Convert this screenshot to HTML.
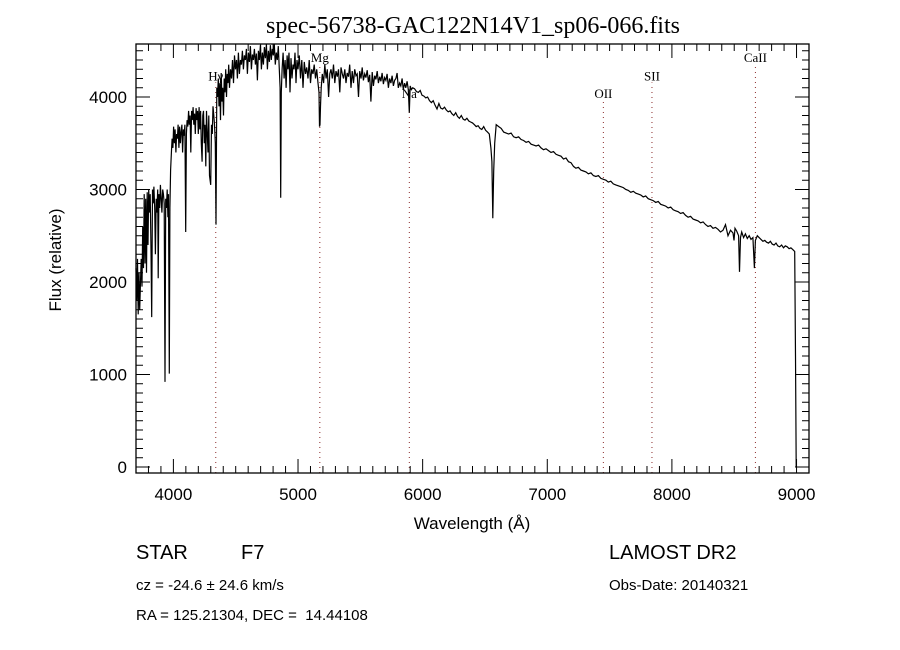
<!DOCTYPE html>
<html><head><meta charset="utf-8"><style>
html,body{margin:0;padding:0;background:#fff;}
svg{display:block;}
.t{font-family:"Liberation Sans",sans-serif;fill:#000;}
.s{font-family:"Liberation Serif",serif;fill:#000;}
</style></head><body>
<svg id="chart" width="900" height="650" viewBox="0 0 900 650" xmlns="http://www.w3.org/2000/svg">
<rect width="900" height="650" fill="#fff"/>
<text class="s" x="473" y="33" font-size="24" text-anchor="middle">spec-56738-GAC122N14V1_sp06-066.fits</text>
<g id="grid"></g>
<g id="marks"></g>
<rect x="136" y="44" width="673" height="429" fill="none" stroke="#000" stroke-width="1.3"/>
<g id="axes"></g>
<text class="t" x="472" y="529" font-size="17" text-anchor="middle">Wavelength (Å)</text>
<text class="t" transform="translate(61,260) rotate(-90)" font-size="17" text-anchor="middle">Flux (relative)</text>
<text class="t" x="136" y="559" font-size="20">STAR</text>
<text class="t" x="241" y="559" font-size="20">F7</text>
<text class="t" x="136" y="590" font-size="15">cz = -24.6 ± 24.6 km/s</text>
<text class="t" x="136" y="620" font-size="15" xml:space="preserve">RA = 125.21304, DEC =  14.44108</text>
<text class="t" x="609" y="559" font-size="20">LAMOST DR2</text>
<text class="t" x="609" y="590" font-size="15">Obs-Date: 20140321</text>
</svg>
<script>
// spectrum samples: [wavelength (Å), flux]
const spectrumBlue = [[3700,2150],[3706,1800],[3712,2250],[3718,1650],[3724,2100],[3730,1700],[3736,2000],[3742,2250],[3748,1950],[3754,2600],[3760,2150],[3766,2950],[3772,2200],[3778,2900],[3784,2100],[3790,2970],[3796,2400],[3802,3000],[3808,2750],[3814,2950],[3820,2350],[3826,1620],[3832,3000],[3838,2850],[3844,3030],[3850,2800],[3856,2300],[3862,2900],[3868,2750],[3874,3000],[3878,2040],[3884,2950],[3890,2800],[3896,3050],[3902,2900],[3908,2750],[3914,3000],[3920,2950],[3926,2850],[3933,920],[3938,2900],[3944,2800],[3950,3000],[3956,2700],[3961,2950],[3967,1010],[3972,2800],[3978,3210],[3984,3400],[3990,3550],[3996,3450],[4002,3680],[4008,3500],[4014,3650],[4020,3400],[4026,3600],[4032,3550],[4038,3700],[4044,3450],[4050,3680],[4056,3500],[4062,3620],[4068,3700],[4074,3400],[4080,3650],[4086,3580],[4092,3700],[4099,2540],[4104,3600],[4110,3750],[4116,3680],[4122,3850],[4128,3700],[4134,3800],[4140,3400],[4146,3850],[4152,3750],[4158,3890],[4164,3700],[4170,3820],[4176,3600],[4182,3880],[4188,3750],[4194,3850],[4200,3600],[4206,3890],[4212,3650],[4218,3850],[4224,3500],[4230,3300],[4236,3800],[4242,3850],[4248,3500],[4254,3700],[4260,3250],[4266,3850],[4272,3600],[4278,3400],[4284,3800],[4290,3150],[4299,3050],[4306,3700],[4312,3600],[4318,3900],[4324,3800],[4330,3700],[4336,3500],[4342,2620],[4348,4100],[4354,4000],[4360,4200],[4366,3900],[4372,4150],[4378,3750],[4384,4260],[4390,3950],[4396,4100],[4402,3800],[4408,4200],[4414,4050],[4420,4300],[4426,4000],[4432,4250],[4438,4150],[4444,4350],[4450,4100],[4458,4300],[4466,4200],[4474,4400],[4482,4150],[4490,4450],[4498,4300],[4506,4400],[4514,4200],[4522,4480],[4530,4250],[4538,4400],[4546,4350],[4554,4500],[4562,4300],[4570,4450],[4578,4400],[4586,4520],[4594,4250],[4602,4480],[4610,4380],[4618,4550],[4626,4300],[4634,4460],[4642,4400],[4650,4520],[4658,4350],[4666,4470],[4674,4180],[4682,4500],[4690,4400],[4698,4560],[4706,4300],[4714,4480],[4722,4350],[4730,4540],[4738,4420],[4746,4570],[4754,4300],[4762,4500],[4770,4380],[4778,4560],[4786,4400],[4794,4520],[4802,4450],[4810,4570],[4818,4350],[4826,4480],[4834,4400],[4842,4550],[4850,4300],[4856,4100],[4861,2910],[4866,4050],[4872,4300],[4880,4480],[4888,4200],[4896,4400],[4904,4100],[4912,4450],[4920,4300],[4928,4480],[4936,4050],[4944,4420],[4952,4200],[4960,4350],[4968,4300],[4976,4480],[4984,4150],[4992,4400],[5000,4300],[5010,4450],[5020,4200],[5030,4400],[5040,4100],[5050,4380],[5060,4250],[5070,4320],[5080,4200],[5090,4400],[5100,4150],[5110,4300],[5120,4250],[5130,4350],[5140,4200],[5150,4300],[5160,4150],[5168,4050],[5172,3680],[5176,3700],[5180,3900],[5186,4100],[5195,4250],[5205,4150]];
const spectrumMid = [[5215,4350],[5225,4200],[5235,4300],[5245,4000],[5255,4250],[5265,4300],[5275,4200],[5285,4350],[5295,4150],[5305,4280],[5315,4220],[5325,4300],[5335,4050],[5345,4320],[5355,4250],[5365,4200],[5375,4300],[5385,4150],[5395,4260],[5405,4220],[5415,4350],[5425,4100],[5435,4280],[5445,4150],[5455,4300],[5465,4230],[5475,4250],[5485,4000],[5495,4280],[5505,4200],[5515,4320],[5525,4180],[5535,4250],[5545,4210],[5555,4290],[5565,4160],[5575,4240],[5585,3950],[5595,4270],[5605,4120],[5615,4230],[5625,4190],[5635,4280],[5645,4150],[5655,4220],[5665,4170],[5675,4260],[5685,4140],[5695,4210],[5705,4180],[5715,4250],[5725,4100],[5735,4200],[5745,4150],[5755,4230],[5765,4120],[5775,4180],[5785,4200],[5795,4260],[5805,4100],[5815,4150],[5825,4120],[5835,4200],[5845,4080],[5855,4150],[5865,4100],[5875,4170],[5885,4080],[5893,3830],[5900,4120],[5910,4080],[5920,4100],[5935,4090],[5950,4060],[5965,4050],[5980,4070],[5995,4020],[6010,4010],[6025,3990],[6040,4000],[6055,3960],[6070,3940],[6085,3960],[6100,3910],[6115,3870],[6130,3930],[6145,3880],[6160,3870],[6175,3890],[6190,3860],[6205,3840],[6220,3850],[6235,3820],[6250,3800],[6265,3830],[6280,3790],[6295,3770],[6310,3800],[6325,3760],[6340,3750],[6355,3770],[6370,3740],[6385,3730],[6400,3720],[6415,3700],[6430,3680],[6445,3690],[6460,3660],[6475,3650],[6490,3680],[6505,3640],[6520,3620],[6535,3600],[6548,3450],[6556,3300],[6563,2690],[6570,3200],[6578,3500],[6590,3700],[6610,3680],[6630,3660]];
const spectrumRed = [[6650,3620],[6670,3610],[6690,3600],[6710,3610],[6730,3570],[6750,3560],[6770,3570],[6790,3540],[6810,3530],[6830,3510],[6850,3520],[6870,3490],[6890,3480],[6910,3470],[6930,3480],[6950,3450],[6970,3430],[6990,3440],[7010,3420],[7030,3400],[7050,3410],[7070,3380],[7090,3370],[7110,3360],[7130,3330],[7150,3340],[7170,3300],[7190,3290],[7210,3250],[7230,3230],[7250,3240],[7270,3210],[7290,3200],[7310,3190],[7330,3170],[7350,3180],[7370,3150],[7390,3140],[7410,3150],[7430,3120],[7450,3110],[7470,3100],[7490,3080],[7510,3090],[7530,3060],[7550,3050],[7570,3040],[7590,3030],[7610,3020],[7630,3000],[7650,2990],[7670,2970],[7690,2980],[7710,2960],[7730,2950],[7750,2940],[7770,2920],[7790,2930],[7810,2900],[7830,2890],[7850,2880],[7870,2860],[7890,2870],[7910,2840],[7930,2830],[7950,2820],[7970,2800],[7990,2810],[8010,2780],[8030,2770],[8050,2760],[8070,2740],[8090,2750],[8110,2720],[8130,2700],[8150,2710],[8170,2680],[8190,2670],[8210,2660],[8230,2640],[8250,2650],[8270,2620],[8290,2600],[8310,2610],[8330,2580],[8350,2590],[8370,2570],[8390,2540],[8410,2560],[8430,2620],[8450,2500],[8470,2560],[8490,2530],[8498,2450],[8506,2580],[8520,2550],[8535,2500],[8542,2110],[8550,2480],[8560,2540],[8575,2480],[8590,2520],[8605,2470],[8620,2500],[8635,2460],[8650,2480],[8662,2150],[8670,2450],[8685,2500],[8700,2480],[8715,2460],[8730,2440],[8745,2450],[8760,2430],[8775,2420],[8790,2440],[8805,2410],[8820,2400],[8835,2420],[8850,2390],[8865,2380],[8880,2400],[8895,2370],[8910,2390],[8925,2380],[8940,2360],[8955,2370],[8970,2350],[8985,2330],[8992,1200],[8997,0]];
const yTicks = [0,1000,2000,3000,4000];
const xTicks = [4000,5000,6000,7000,8000,9000];
const lineNames = ["Hγ","Mg","Na","OII","SII","CaII"];
const lineWaves = [4340,5175,5893,7450,7840,8670];
const lineFlux = [4180,4380,3990,3990,4180,4380];

const X0=136,X1=809,Y0=44,Y1=473,WMIN=3700,WMAX=9100,FMIN=-65,FMAX=4573;
const NS="http://www.w3.org/2000/svg";
function xs(w){return X0+(w-WMIN)/(WMAX-WMIN)*(X1-X0);}
function ys(f){return Y1-(f-FMIN)/(FMAX-FMIN)*(Y1-Y0);}
function mk(tag,attrs,parent){const e=document.createElementNS(NS,tag);for(const k in attrs)e.setAttribute(k,attrs[k]);parent.appendChild(e);return e;}
const grid=document.getElementById('grid'),marks=document.getElementById('marks'),axes=document.getElementById('axes');

for(let i=0;i<lineNames.length;i++){
  const x=xs(lineWaves[i]);
  const l=mk('line',{x1:x,x2:x,y1:Y1,y2:ys(lineFlux[i])+2,stroke:'#8b2a2a','stroke-width':1,'stroke-dasharray':'1 4'},grid);
  
  
  const t=mk('text',{x:x,y:ys(lineFlux[i]),'font-size':13,'text-anchor':'middle','class':'s'},grid);
  t.textContent=lineNames[i];
  
  
}
const pts=spectrumBlue.concat(spectrumMid,spectrumRed);
let d='';
for(let i=0;i<pts.length;i++){d+=(i?'L':'M')+xs(pts[i][0]).toFixed(1)+' '+ys(pts[i][1]).toFixed(1);}
const p=mk('path',{d:d,fill:'none',stroke:'#000','stroke-width':1.2},marks);



for(let w=3700;w<=9100;w+=100){
  const x=xs(w),L=(w%1000===0)?14:7;
  mk('line',{x1:x,x2:x,y1:Y1,y2:Y1-L,stroke:'#000'},axes);
  mk('line',{x1:x,x2:x,y1:Y0,y2:Y0+L,stroke:'#000'},axes);
}
for(const w of xTicks){
  const t=mk('text',{x:xs(w),y:500,'font-size':17,'text-anchor':'middle','class':'t'},axes);
  t.textContent=w;
  
  
}
for(let f=0;f<=4500;f+=100){
  const y=ys(f),L=(f%1000===0)?14:7;
  mk('line',{x1:X0,x2:X0+L,y1:y,y2:y,stroke:'#000'},axes);
  mk('line',{x1:X1,x2:X1-L,y1:y,y2:y,stroke:'#000'},axes);
}
for(const f of yTicks){
  const t=mk('text',{x:127,y:ys(f)+6,'font-size':17,'text-anchor':'end','class':'t'},axes);
  t.textContent=f;
  
  
}
</script>
</body></html>
